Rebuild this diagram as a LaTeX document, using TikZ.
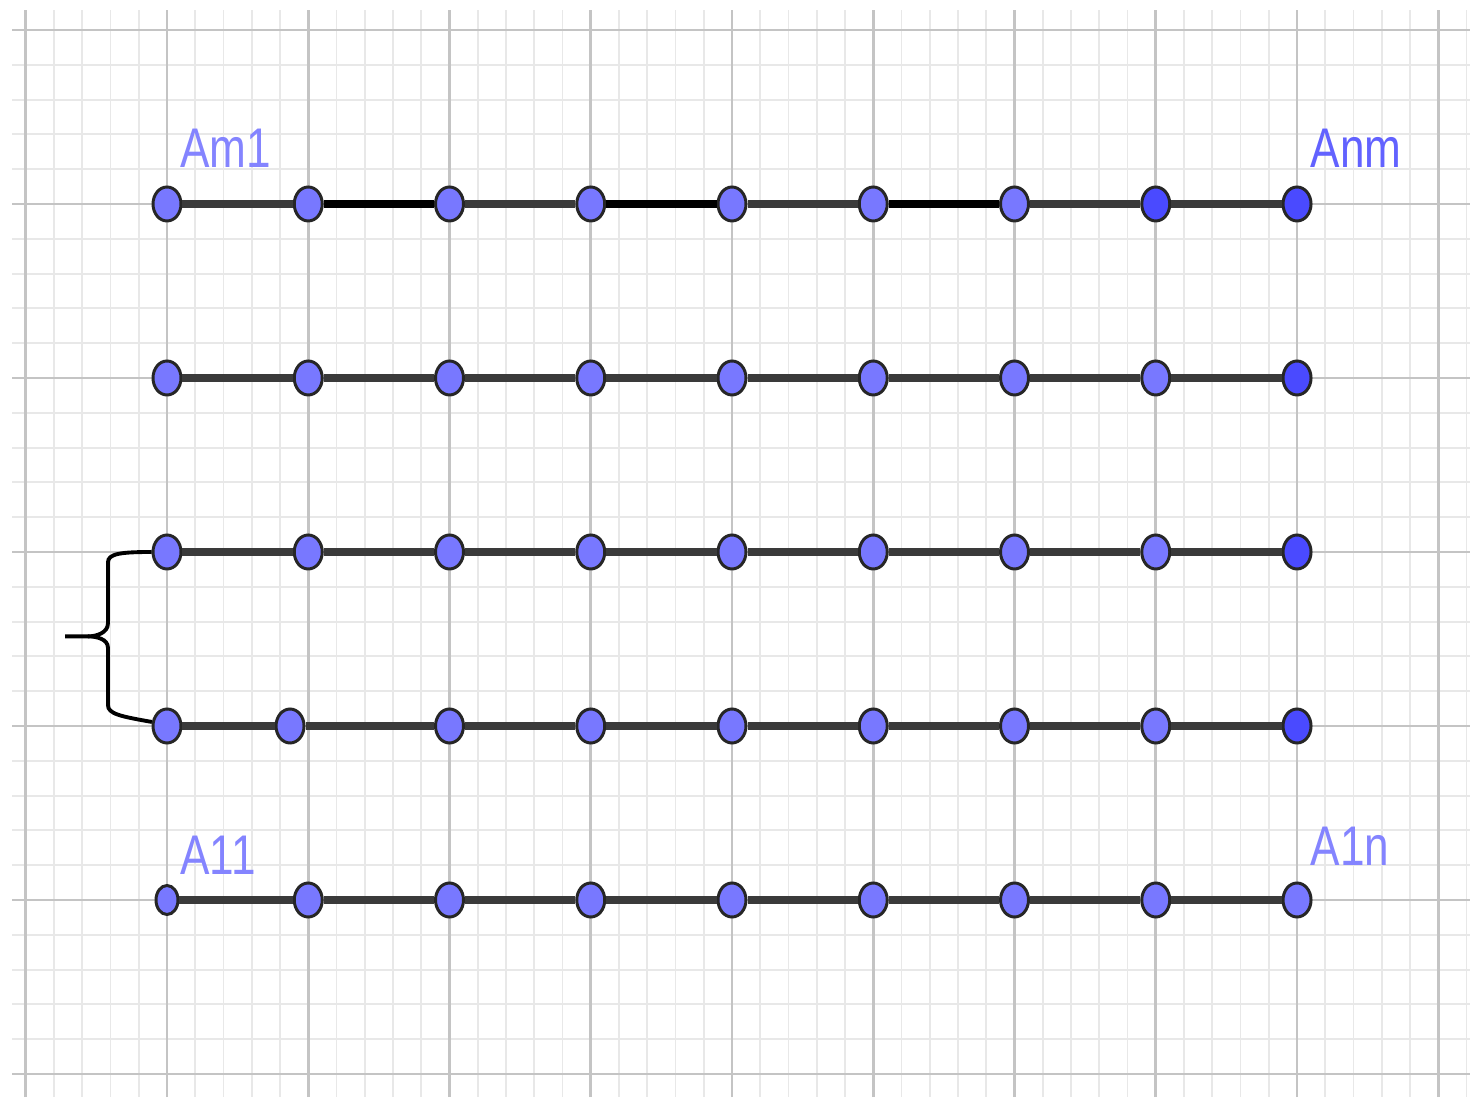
\documentclass[tikz,border=0pt]{standalone}
\usepackage{fontspec}
\newfontfamily\labelfont{Liberation Sans}
\usetikzlibrary{shapes.geometric}

\definecolor{ptlight}{HTML}{7878FF}
\definecolor{ptdark}{HTML}{4A4AFF}
\definecolor{lbllight}{HTML}{8484FF}
\definecolor{lbldark}{HTML}{6262FF}
\definecolor{minorgray}{HTML}{E8E8E8}
\definecolor{majorgray}{HTML}{C4C4C4}
\definecolor{segcolor}{HTML}{3A3A3A}

\tikzset{
  pt/.style={ellipse, draw=black!85, line width=0.85pt, fill=ptlight,
    minimum width=0.28cm, minimum height=0.34cm, inner sep=0pt},
  ptdk/.style={pt, fill=ptdark},
  segline/.style={draw=segcolor, line width=2.1pt},
  seglinedk/.style={draw=black, line width=2.1pt},
  lbl/.style={anchor=base west, inner sep=0pt, xscale=0.79,
    font=\labelfont\fontsize{15.9}{16}\selectfont, text=lbllight}
}

\begin{document}
\begin{tikzpicture}[x=1.4125cm, y=1.74cm]
  \useasboundingbox (-1.1823,-1.1322) rectangle (9.2248,5.1724);
  % grid
  \draw[minorgray, line width=0.55pt, step=0.2] (-1.097,-1.1322) grid (9.2248,5.115);
  \draw[majorgray, line width=0.75pt, step=1] (-1.097,-1.1322) grid (9.2248,5.115);

  % points
  \foreach \r in {2,3}
    \foreach \c in {0,...,7}
      \node[pt] (p-\r-\c) at (\c,\r) {};
  \foreach \c in {0,...,6}
    \node[pt] (p-4-\c) at (\c,4) {};
  \foreach \c in {0,2,3,4,5,6,7}
    \node[pt] (p-1-\c) at (\c,1) {};
  \foreach \c in {1,...,8}
    \node[pt] (p-0-\c) at (\c,0) {};
  \node[pt] (p-1-1) at (0.871,1) {};
  \node[pt, minimum width=0.22cm, minimum height=0.29cm] (p-0-0) at (0,0) {};
  \foreach \r in {1,...,4}
    \node[ptdk] (p-\r-8) at (8,\r) {};
  \node[ptdk] (p-4-7) at (7,4) {};

  % segments
  \foreach \r in {0,...,4}
    \foreach \c/\d in {0/1,1/2,2/3,3/4,4/5,5/6,6/7,7/8}
      \draw[segline] (p-\r-\c) -- (p-\r-\d);
  \foreach \c/\d in {1/2,3/4,5/6}
    \draw[seglinedk] (p-4-\c) -- (p-4-\d);

  % brace
  \coordinate (tip) at (-0.722,1.515);
  \draw[black, line width=1.1pt]
    (p-2-0.west) .. controls (-0.33,2.0) and (-0.418,1.99) .. (-0.418,1.94)
    -- (-0.418,1.59) .. controls (-0.418,1.535) and (-0.5,1.515) .. (-0.56,1.515)
    -- (tip);
  \draw[black, line width=1.1pt]
    (-0.56,1.515) .. controls (-0.5,1.515) and (-0.418,1.50) .. (-0.418,1.45)
    -- (-0.418,1.12) .. controls (-0.418,1.07) and (-0.33,1.055) .. (p-1-0.165);

  % labels
  \node[lbl] (am1) at (0.092,4.207) {Am1};
  \node[lbl, text=lbldark] (anm) at (8.092,4.207) {Anm};
  \node[lbl] (a11) at (0.092,0.144) {A11};
  \node[lbl] (a1n) at (8.092,0.201) {A1n};
\end{tikzpicture}
\end{document}
